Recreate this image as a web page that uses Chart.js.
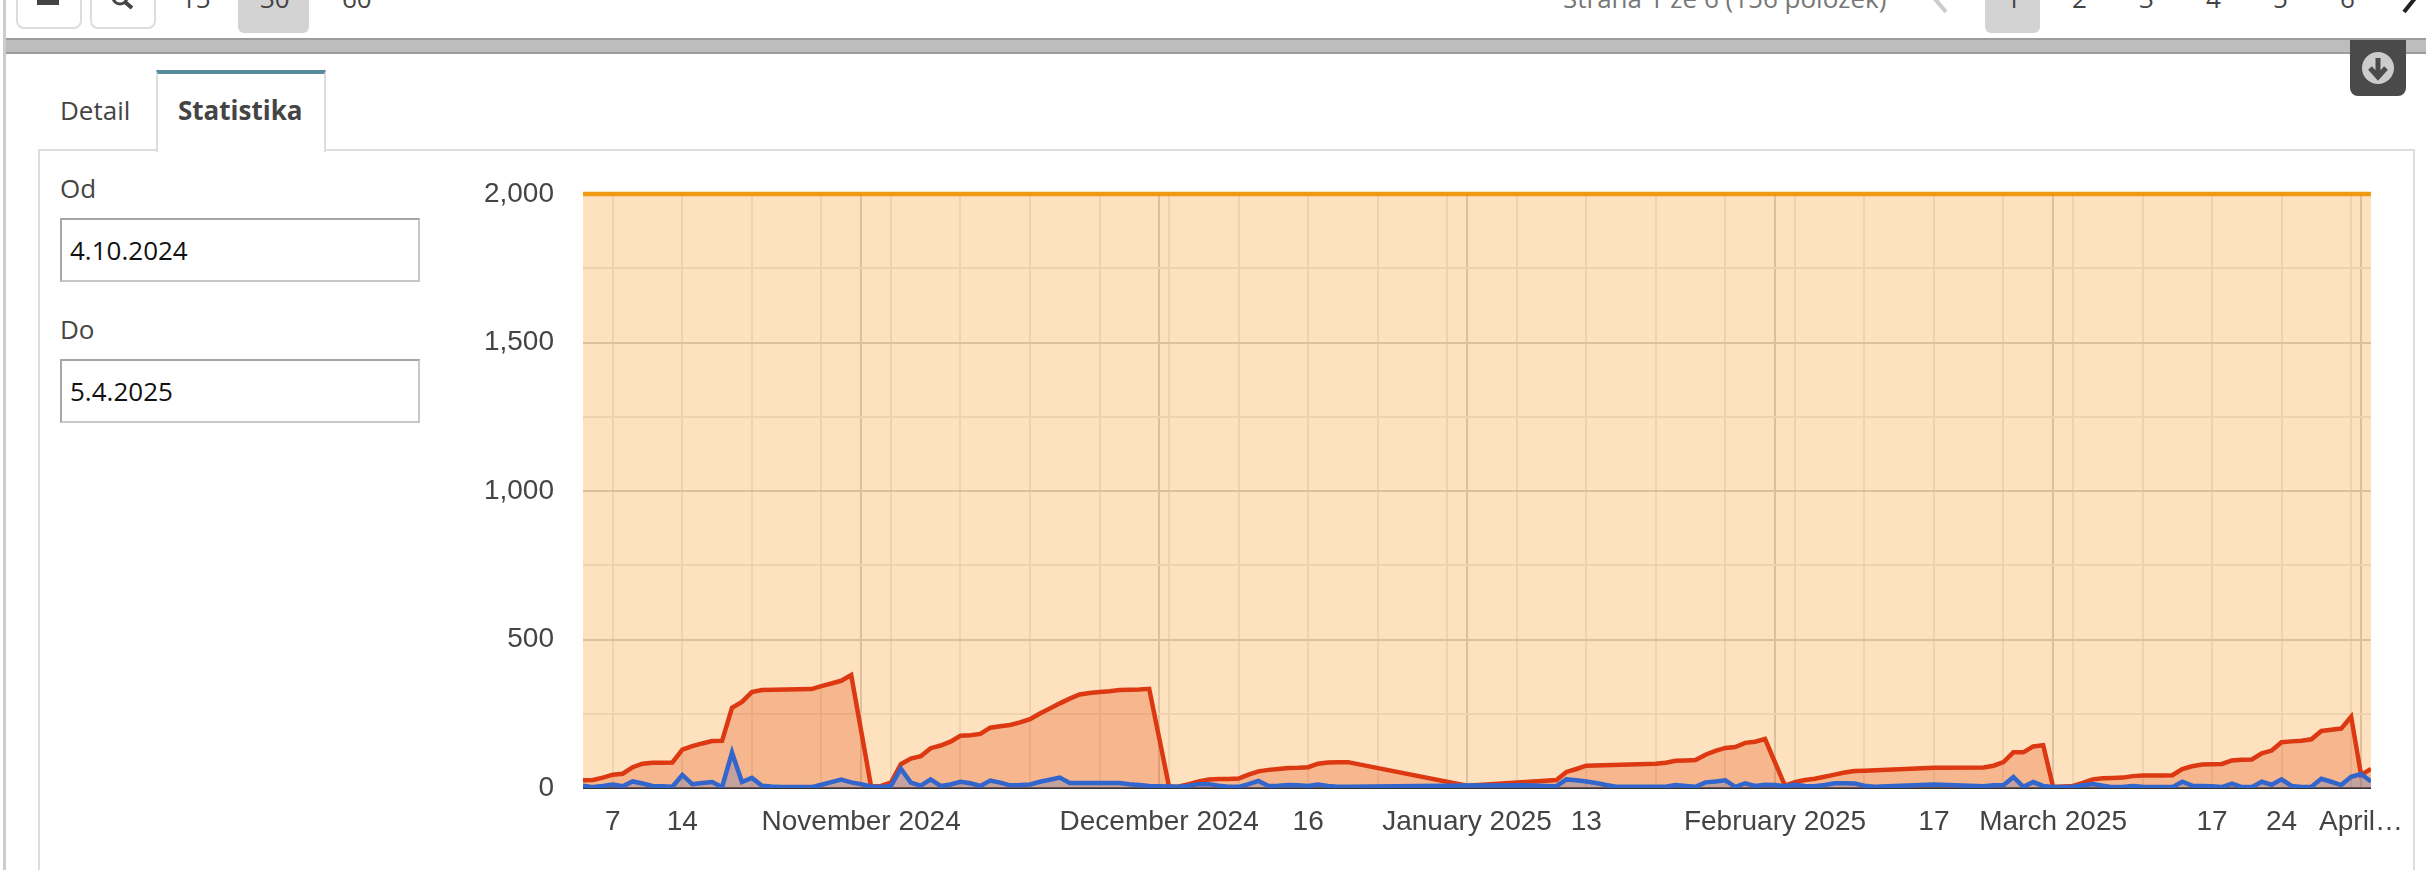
<!DOCTYPE html>
<html>
<head>
<meta charset="utf-8">
<title>Statistika</title>
<script src="https://cdn.jsdelivr.net/npm/chart.js@4/dist/chart.umd.min.js"></script>
<style>
html, body { margin: 0; padding: 0; background: #fff; overflow: hidden; }
body { width: 2426px; height: 870px; position: relative; font-family: "Open Sans", sans-serif; color: #444; }
.abs { position: absolute; }
.txt { position: absolute; font-size: 26px; line-height: 34px; white-space: nowrap; }
.btn { position: absolute; top: -10px; height: 35px; width: 62px; border: 2px solid #ddd; border-radius: 8px; box-sizing: content-box; }
.grey { position: absolute; top: -4px; height: 37px; background: #d3d3d3; border-radius: 6px; }
.field { position: absolute; left: 60px; width: 360px; height: 64px; box-sizing: border-box; border: 2px solid #c8c8c8; border-top-color: #a5a5a5; border-left-color: #a8a8a8; font-size: 26px; line-height: 60px; padding-left: 8px; color: #111; }
#chart { position: absolute; left: 460px; top: 160px; }
</style>
</head>
<body>
<div class="abs" style="left:3px;top:0;width:3px;height:870px;background:#ccc"></div>
<div class="abs" style="left:6px;top:38px;width:2420px;height:16px;background:#bdbdbd;border-top:2px solid #9c9c9c;border-bottom:2px solid #9c9c9c;box-sizing:border-box"></div>

<div class="btn" style="left:16px"></div>
<div class="btn" style="left:90px"></div>
<div class="abs" style="left:37px;top:0;width:22px;height:5px;background:#444"></div>
<svg class="abs" style="left:105px;top:0" width="34" height="12"><circle cx="15" cy="-3" r="7" stroke="#444" stroke-width="3" fill="none"/><path d="M20 2 L27 8" stroke="#444" stroke-width="4"/></svg>
<div class="grey" style="left:238px;width:71px"></div>
<div class="txt" style="left:181px;top:-19px">15</div>
<div class="txt" style="left:260px;top:-19px">30</div>
<div class="txt" style="left:342px;top:-19px">60</div>

<div class="txt" style="left:1563px;top:-19px;color:#777">Strana 1 ze 6 (156 položek)</div>
<div class="grey" style="left:1985px;width:55px"></div>
<div class="txt" style="left:2006px;top:-19px">1</div>
<div class="txt" style="left:2072px;top:-19px">2</div>
<div class="txt" style="left:2139px;top:-19px">3</div>
<div class="txt" style="left:2206px;top:-19px">4</div>
<div class="txt" style="left:2273px;top:-19px">5</div>
<div class="txt" style="left:2340px;top:-19px">6</div>
<svg class="abs" style="left:1925px;top:0" width="30" height="16"><path d="M4 -8 L21 12" stroke="#ccc" stroke-width="4" fill="none"/></svg>
<svg class="abs" style="left:2396px;top:0" width="30" height="16"><path d="M24 -8 L8 12" stroke="#222" stroke-width="4" fill="none"/></svg>

<div class="abs" style="left:2350px;top:40px;width:56px;height:56px;background:#4a4a4a;border-radius:0 0 8px 8px"></div>
<svg class="abs" style="left:2350px;top:40px" width="56" height="56">
  <circle cx="28" cy="28" r="16" fill="#ccc"/>
  <path d="M28 18 V36 M20 28 L28 37 L36 28" stroke="#4a4a4a" stroke-width="5" fill="none"/>
</svg>

<div class="abs" style="left:38px;top:149px;width:2377px;height:730px;border:2px solid #ddd;box-sizing:border-box"></div>
<div class="abs" style="left:156px;top:70px;width:170px;height:82px;background:#fff;border:2px solid #ddd;border-top:4px solid #5a8a9f;border-bottom:none;box-sizing:border-box"></div>
<div class="txt" style="left:60px;top:93px">Detail</div>
<div class="txt" style="left:178px;top:93px;font-weight:700">Statistika</div>
<div class="txt" style="left:60px;top:171px">Od</div>
<div class="field" style="top:218px">4.10.2024</div>
<div class="txt" style="left:60px;top:312px">Do</div>
<div class="field" style="top:359px">5.4.2025</div>

<canvas id="chart" width="1990" height="700"></canvas>

<script>
// x values are days counted from 4.10.2024 (day 0)
const redDays = [0,1,2,3,4,5,6,7,8,9,10,11,12,13,14,15,16,17,18,23,24,25,26,27,29,30,31,32,33,34,35,36,37,38,39,40,41,42,43,44,45,46,47,48,49,50,51,52,53,54,55,56,57,59,60,61,62,63,64,65,66,67,68,69,70,71,72,73,74,75,76,77,89,98,99,100,101,108,109,110,111,112,113,114,115,116,117,118,119,121,122,123,124,125,126,127,128,129,136,141,142,143,144,145,146,147,148,150,151,152,153,154,155,156,157,158,159,160,161,162,163,164,165,166,167,168,169,170,171,172,173,174,175,176,177,178,179,180];
const redValues = [26,27,35,45,48,70,82,85,85,86,129,141,150,158,159,270,290,323,330,333,343,352,361,380,5,7,18,80,99,107,134,143,156,176,178,182,203,208,212,221,232,251,268,285,301,315,320,323,326,330,331,332,334,4,5,13,22,29,30,30,32,45,56,61,64,67,68,70,82,86,87,87,8,27,54,64,75,82,85,92,93,94,112,125,135,138,152,156,165,8,20,27,31,38,45,52,57,58,68,69,75,87,120,120,140,144,3,7,17,29,33,34,35,40,42,42,42,43,64,73,79,80,81,93,95,96,117,126,154,157,159,164,192,196,200,240,44,64];

const blueDays = [0,1,2,3,4,5,6,7,8,9,10,11,12,13,14,15,16,17,18,19,20,23,24,25,26,27,28,29,30,31,32,33,34,35,36,37,38,39,40,41,42,43,44,45,46,47,48,49,54,55,56,57,59,60,61,62,63,64,65,66,67,68,69,70,71,72,73,74,75,76,77,89,95,97,98,99,100,101,102,103,104,109,110,111,112,113,114,115,116,117,118,119,120,121,122,123,124,125,126,127,128,129,130,136,141,142,143,144,145,146,147,148,150,151,152,153,154,155,156,157,160,161,162,163,164,165,166,167,168,169,170,171,172,173,174,175,176,177,178,179,180];
const blueValues = [8,3,7,12,6,22,15,7,6,4,44,13,17,20,3,119,20,34,8,5,3,3,11,20,28,19,13,5,3,7,65,18,8,29,7,12,21,16,7,25,18,9,10,12,21,28,35,17,17,13,10,7,5,4,8,13,13,8,4,4,13,24,7,8,10,9,7,12,7,4,4,8,9,7,6,29,26,22,17,10,4,4,10,7,4,19,22,26,4,16,7,11,10,6,11,7,6,10,16,16,15,8,4,12,6,9,9,37,4,20,7,3,4,9,13,8,3,3,7,4,3,21,8,7,6,3,15,3,3,21,11,29,7,3,4,31,21,10,38,47,22];

const limitDays = [0, 180];
const limitValues = [2000, 2000];

const tickDays = [3, 10, 28, 58, 73, 89, 101, 120, 136, 148, 164, 171, 179];
const tickLabels = ['7', '14', 'November 2024', 'December 2024', '16', 'January 2025', '13', 'February 2025', '17', 'March 2025', '17', '24', 'April\u2026'];
const monthDays = [28, 58, 89, 120, 148, 179];
const weekDays = [3, 10, 17, 24, 31, 38, 45, 52, 59, 66, 73, 80, 87, 94, 101, 108, 115, 122, 129, 136, 143, 150, 157, 164, 171, 178];

function points(days, values) {
    return days.map((d, i) => ({ x: d, y: values[i] }));
}

const labelFont = { family: '"Liberation Sans", Arial, sans-serif', size: 28 };

new Chart(document.getElementById('chart').getContext('2d'), {
    type: 'line',
    data: {
        datasets: [
            { label: 'Limit', data: points(limitDays, limitValues), borderColor: '#f09a14', backgroundColor: 'rgba(253, 145, 20, 0.27)', order: 3, clip: false },
            { label: 'Red', data: points(redDays, redValues), borderColor: '#dc3912', backgroundColor: 'rgba(225, 65, 10, 0.27)', order: 2 },
            { label: 'Blue', data: points(blueDays, blueValues), borderColor: '#3366cc', backgroundColor: 'rgba(51, 102, 204, 0.27)', order: 1 }
        ]
    },
    options: {
        responsive: false,
        animation: false,
        parsing: false,
        normalized: true,
        layout: { padding: { top: 34, right: 79, left: 0, bottom: 0 } },
        elements: {
            point: { radius: 0 },
            line: { borderWidth: 4.5, tension: 0, fill: 'origin', borderJoinStyle: 'miter' }
        },
        plugins: { legend: { display: false }, tooltip: { enabled: false } },
        scales: {
            x: {
                type: 'linear',
                min: 0,
                max: 180,
                afterBuildTicks: function(scale) {
                    scale.ticks = [...new Set(weekDays.concat(monthDays))].sort((a, b) => a - b).map(v => ({ value: v }));
                },
                afterFit: function(scale) { scale.height = 72; },
                border: { display: false },
                grid: {
                    drawTicks: false,
                    lineWidth: 2,
                    color: c => monthDays.includes(c.tick.value) ? '#d2d2d2' : '#ebebeb'
                },
                ticks: {
                    autoSkip: false,
                    maxRotation: 0,
                    padding: 17,
                    color: '#444',
                    font: labelFont,
                    callback: function(value) {
                        const i = tickDays.indexOf(value);
                        return i < 0 ? '' : tickLabels[i];
                    }
                }
            },
            y: {
                min: 0,
                max: 2000,
                afterFit: function(scale) {
                    // keep the tick padding from pushing the plot area down
                    scale.width = 123;
                    scale.paddingTop = 0;
                    scale.paddingBottom = 0;
                },
                border: { display: false },
                grid: {
                    drawTicks: false,
                    lineWidth: 2,
                    color: c => c.tick.value === 0 ? '#333' : (c.tick.value % 500 === 0 ? '#d2d2d2' : '#ebebeb')
                },
                ticks: {
                    stepSize: 250,
                    padding: 29,
                    color: '#444',
                    font: labelFont,
                    callback: value => value % 500 === 0 ? value.toLocaleString('en-US') : ''
                }
            }
        }
    }
});
</script>
</body>
</html>
